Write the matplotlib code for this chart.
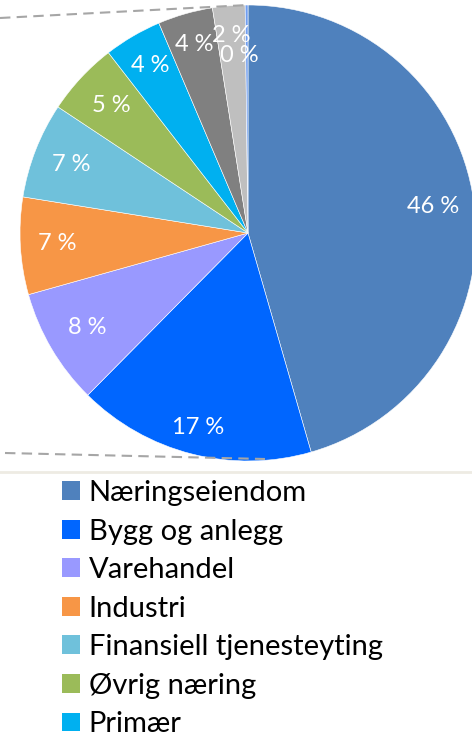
import matplotlib
matplotlib.use('Agg')
import matplotlib.pyplot as plt
from matplotlib.patches import Patch
import numpy as np

plt.rcParams['font.family'] = ['Lato', 'DejaVu Sans']

# Data (share of lending by sector, %)
sectors = ['Næringseiendom', 'Bygg og anlegg', 'Varehandel', 'Industri',
           'Finansiell tjenesteyting', 'Øvrig næring', 'Primær',
           'Øvrig 1', 'Øvrig 2', 'Øvrig 3']
shares = [45.6, 16.9, 8.25, 6.9, 6.8, 5.2, 4.1, 3.9, 2.3, 0.2]
colors = ['#4f81bd', '#0066ff', '#9999ff', '#f79646', '#6fc1db',
          '#9bbb59', '#00b0f0', '#808080', '#bfbfbf', '#6f9ef0']
n_legend = 7  # only the first entries are visible in the picture

W, H = 472, 738
cx, cy, R = 248, 233, 228  # pie centre / radius in pixels

fig = plt.figure(figsize=(W / 100, H / 100), dpi=100)
ax = fig.add_axes([0, 0, 1, 1])

wedges, _ = ax.pie(shares, colors=colors, startangle=90, counterclock=False,
                   radius=1, wedgeprops=dict(edgecolor='white', linewidth=0.4))

# percentage labels, placed along each wedge's mid-angle
label_r = [0.82, 0.88, 0.82, 0.84, 0.83, 0.82, 0.85, 0.86, 0.87, 0.78]
label_shift = [0, 0, 0, 0, 0, 0, 0, 0, 0, -0.035]
for w, v, r, s in zip(wedges, shares, label_r, label_shift):
    ang = np.deg2rad((w.theta1 + w.theta2) / 2)
    x = r * np.cos(ang) + s
    y = r * np.sin(ang)
    ax.text(x, y, f'{round(v)} %', color='white', fontsize=17,
            ha='center', va='center')

# connector lines (pie-of-pie remnants)
ax.plot([-cx / R, 0], [(cy - 18) / R, 1.0], ls=(0, (5, 3)), color='#a6a6a6',
        lw=1.5, zorder=5)
ax.plot([(5 - cx) / R, (265 - cx) / R], [(cy - 453) / R, (cy - 459) / R],
        ls=(0, (5, 3)), color='#a6a6a6', lw=1.5, zorder=5)

ax.set_xlim(-cx / R, (W - cx) / R)
ax.set_ylim((cy - H) / R, cy / R)
ax.set_aspect('auto')
ax.axis('off')

# separator line
fig.add_artist(plt.Line2D([0, 1], [1 - 472 / H, 1 - 472 / H],
                          color='#eeebe3', lw=2, transform=fig.transFigure))

handles = [Patch(facecolor=c, edgecolor='none') for c in colors[:n_legend]]
fig.legend(handles, sectors[:n_legend], loc='upper left',
           bbox_to_anchor=(62 / W, 1 - 480 / H), frameon=False,
           fontsize=21, handlelength=0.62, handleheight=0.62,
           handletextpad=0.3, labelspacing=0.43, borderpad=0,
           borderaxespad=0)

plt.savefig('out.png', dpi=100)
